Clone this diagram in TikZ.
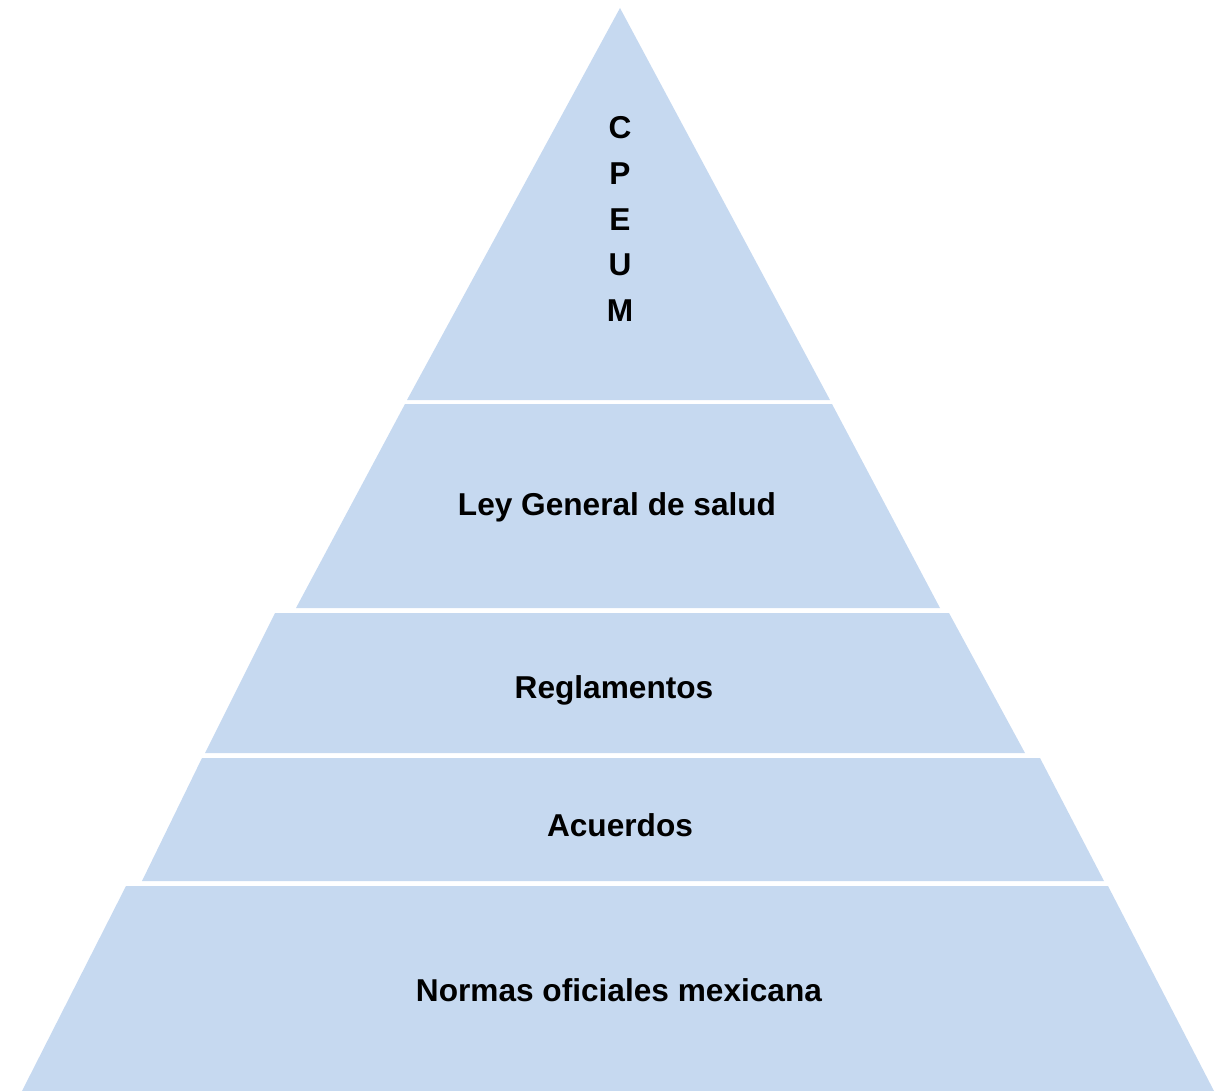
\documentclass[tikz,border=0pt]{standalone}
\usepackage{fontspec}
\setmainfont{Liberation Sans}
\usetikzlibrary{calc}
\definecolor{bandblue}{RGB}{198,217,240}
\tikzset{
    band/.style={fill=bandblue,draw=none},
    bandlabel/.style={font=\fontsize{18}{26}\selectfont\bfseries,align=center,inner sep=0pt}
}

\begin{document}
\begin{tikzpicture}[x=0.02cm,y=-0.02cm]
    \useasboundingbox (0,0) rectangle (1214,1091);
    % Bands
    \fill[band] (620,8) -- (830,400) -- (407,400) -- cycle;
    \fill[band] (405,404) -- (832,404) -- (940,608) -- (296,608) -- cycle;
    \fill[band] (275,613) -- (949,613) -- (1025,753) -- (205,753) -- cycle;
    \fill[band] (202,758) -- (1040,758) -- (1104,881) -- (142,881) -- cycle;
    \fill[band] (126,886) -- (1108,886) -- (1214,1091) -- (22,1091) -- cycle;
    % Labels
    \node[bandlabel] (cpeum) at (620,219) {C\\P\\E\\U\\M};
    \node[bandlabel] (ley) at (617,507) {Ley General de salud};
    \node[bandlabel] (regl) at (614,690) {Reglamentos};
    \node[bandlabel] (acue) at (620,825) {Acuerdos};
    \node[bandlabel] (normas) at (619,990) {Normas oficiales mexicana};
\end{tikzpicture}
\end{document}
